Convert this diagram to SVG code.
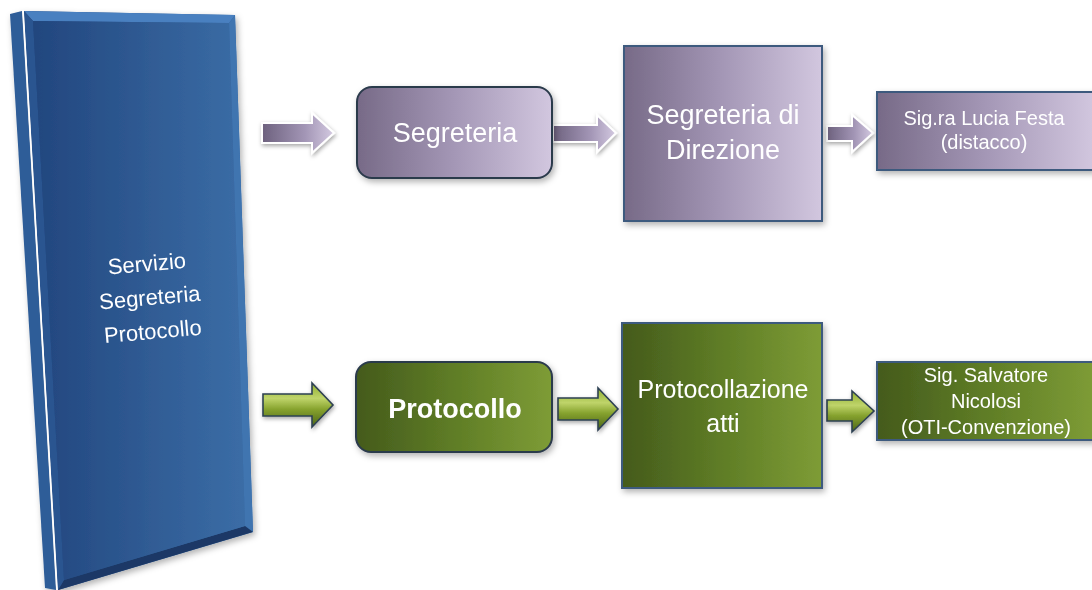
<svg xmlns="http://www.w3.org/2000/svg" width="1092" height="590" viewBox="0 0 1092 590">
  <style>
    .t { font-family: "Liberation Sans", Arial, sans-serif; fill: #ffffff; text-anchor: middle; }
    .pbox { stroke: #3d5a7e; stroke-width: 2; }
    .gbox { stroke: #3d5a7e; stroke-width: 2; }
    .parr { fill: url(#pArrow); stroke: #ffffff; stroke-width: 2; stroke-linejoin: miter; }
    .garr { fill: url(#gArrow); stroke: #2e4152; stroke-width: 1.6; stroke-linejoin: miter; }
  </style>
  <defs>
    <filter id="sh" x="-20%" y="-20%" width="140%" height="140%">
      <feDropShadow dx="2" dy="3" stdDeviation="3" flood-color="#000" flood-opacity="0.3"/>
    </filter>
    <filter id="glow" x="-20%" y="-30%" width="140%" height="160%">
      <feDropShadow dx="1" dy="2" stdDeviation="2" flood-color="#000" flood-opacity="0.35"/>
    </filter>
    <linearGradient id="blueFace" x1="0" y1="0" x2="1" y2="0">
      <stop offset="0" stop-color="#22467e"/>
      <stop offset="1" stop-color="#3b6da6"/>
    </linearGradient>
    <linearGradient id="purple" x1="0" y1="0" x2="1" y2="0">
      <stop offset="0" stop-color="#776a87"/>
      <stop offset="0.5" stop-color="#a497b6"/>
      <stop offset="1" stop-color="#d2c7df"/>
    </linearGradient>
    <linearGradient id="green" x1="0" y1="0" x2="1" y2="0">
      <stop offset="0" stop-color="#445a1c"/>
      <stop offset="0.5" stop-color="#5f7d26"/>
      <stop offset="1" stop-color="#7e9c36"/>
    </linearGradient>
    <linearGradient id="pArrow" x1="0" y1="0" x2="1" y2="0">
      <stop offset="0" stop-color="#6d617e"/>
      <stop offset="0.6" stop-color="#a396b6"/>
      <stop offset="1" stop-color="#d4cae1"/>
    </linearGradient>
    <linearGradient id="gArrow" x1="0" y1="0" x2="0" y2="1">
      <stop offset="0" stop-color="#8fae30"/>
      <stop offset="0.35" stop-color="#bfd46a"/>
      <stop offset="0.6" stop-color="#86a22e"/>
      <stop offset="1" stop-color="#4a6318"/>
    </linearGradient>
  </defs>

  <rect width="1092" height="590" fill="#ffffff"/>

  <g id="servizio" filter="url(#sh)">
    <polygon points="10,14 22,11 56,590 45,588" fill="#2f5d98"/>
    <polygon points="24,11 235,15 253,532 58,590" fill="url(#blueFace)"/>
    <polygon points="24,11 235,15 229,23 33,21" fill="#4a80c0"/>
    <polygon points="235,15 253,532 245,526 229,23" fill="#3f74b0"/>
    <polygon points="253,532 58,590 64,580 245,526" fill="#1c3966"/>
    <polygon points="24,11 33,21 64,580 58,590" fill="#2a5590"/>
    <polygon points="33,21 229,23 245,526 64,580" fill="url(#blueFace)"/>
    <line x1="23" y1="10" x2="57" y2="590" stroke="#ffffff" stroke-width="1.6"/>
    <g transform="rotate(-5 150 300)">
      <text class="t" x="150" y="271" font-size="22">Servizio</text>
      <text class="t" x="150" y="305" font-size="22">Segreteria</text>
      <text class="t" x="150" y="339" font-size="22">Protocollo</text>
    </g>
  </g>

  <g id="connectors">
    <g filter="url(#glow)">
      <path class="parr" d="M262,123 H312 V113 L334,133 L312,153 V143 H262 Z"/>
      <path class="parr" d="M553,125 H597 V115 L616,133 L597,152 V142 H553 Z"/>
      <path class="parr" d="M827,126 H852 V115 L873,133 L852,152 V141 H827 Z"/>
      <path class="garr" d="M263,394 H312 V383 L333,405 L312,427 V416 H263 Z"/>
      <path class="garr" d="M558,398 H598 V388 L618,409 L598,430 V420 H558 Z"/>
      <path class="garr" d="M827,400 H852 V391 L874,411 L852,432 V421 H827 Z"/>
    </g>
  </g>

  <g id="segreteria" filter="url(#sh)">
    <rect x="357" y="87" width="195" height="91" rx="15" fill="url(#purple)" stroke="#2c3a4c" stroke-width="2"/>
    <text class="t" x="455" y="142" font-size="27">Segreteria</text>
  </g>

  <g id="segreteria-direzione" filter="url(#sh)">
    <rect class="pbox" x="624" y="46" width="198" height="175" fill="url(#purple)"/>
    <text class="t" x="723" y="124" font-size="27">Segreteria di</text>
    <text class="t" x="723" y="159" font-size="27">Direzione</text>
  </g>

  <g id="lucia-festa" filter="url(#sh)">
    <rect class="pbox" x="877" y="92" width="218" height="78" fill="url(#purple)"/>
    <text class="t" x="984" y="125" font-size="20">Sig.ra Lucia Festa</text>
    <text class="t" x="984" y="149" font-size="20">(distacco)</text>
  </g>

  <g id="protocollo" filter="url(#sh)">
    <rect x="356" y="362" width="196" height="90" rx="15" fill="url(#green)" stroke="#2c3a4c" stroke-width="2"/>
    <text class="t" x="455" y="418" font-size="27" font-weight="bold">Protocollo</text>
  </g>

  <g id="protocollazione" filter="url(#sh)">
    <rect class="gbox" x="622" y="323" width="200" height="165" fill="url(#green)"/>
    <text class="t" x="723" y="398" font-size="25">Protocollazione</text>
    <text class="t" x="723" y="432" font-size="25">atti</text>
  </g>

  <g id="salvatore" filter="url(#sh)">
    <rect class="gbox" x="877" y="362" width="218" height="78" fill="url(#green)"/>
    <text class="t" x="986" y="382" font-size="20">Sig. Salvatore</text>
    <text class="t" x="986" y="408" font-size="20">Nicolosi</text>
    <text class="t" x="986" y="434" font-size="20">(OTI-Convenzione)</text>
  </g>
</svg>
